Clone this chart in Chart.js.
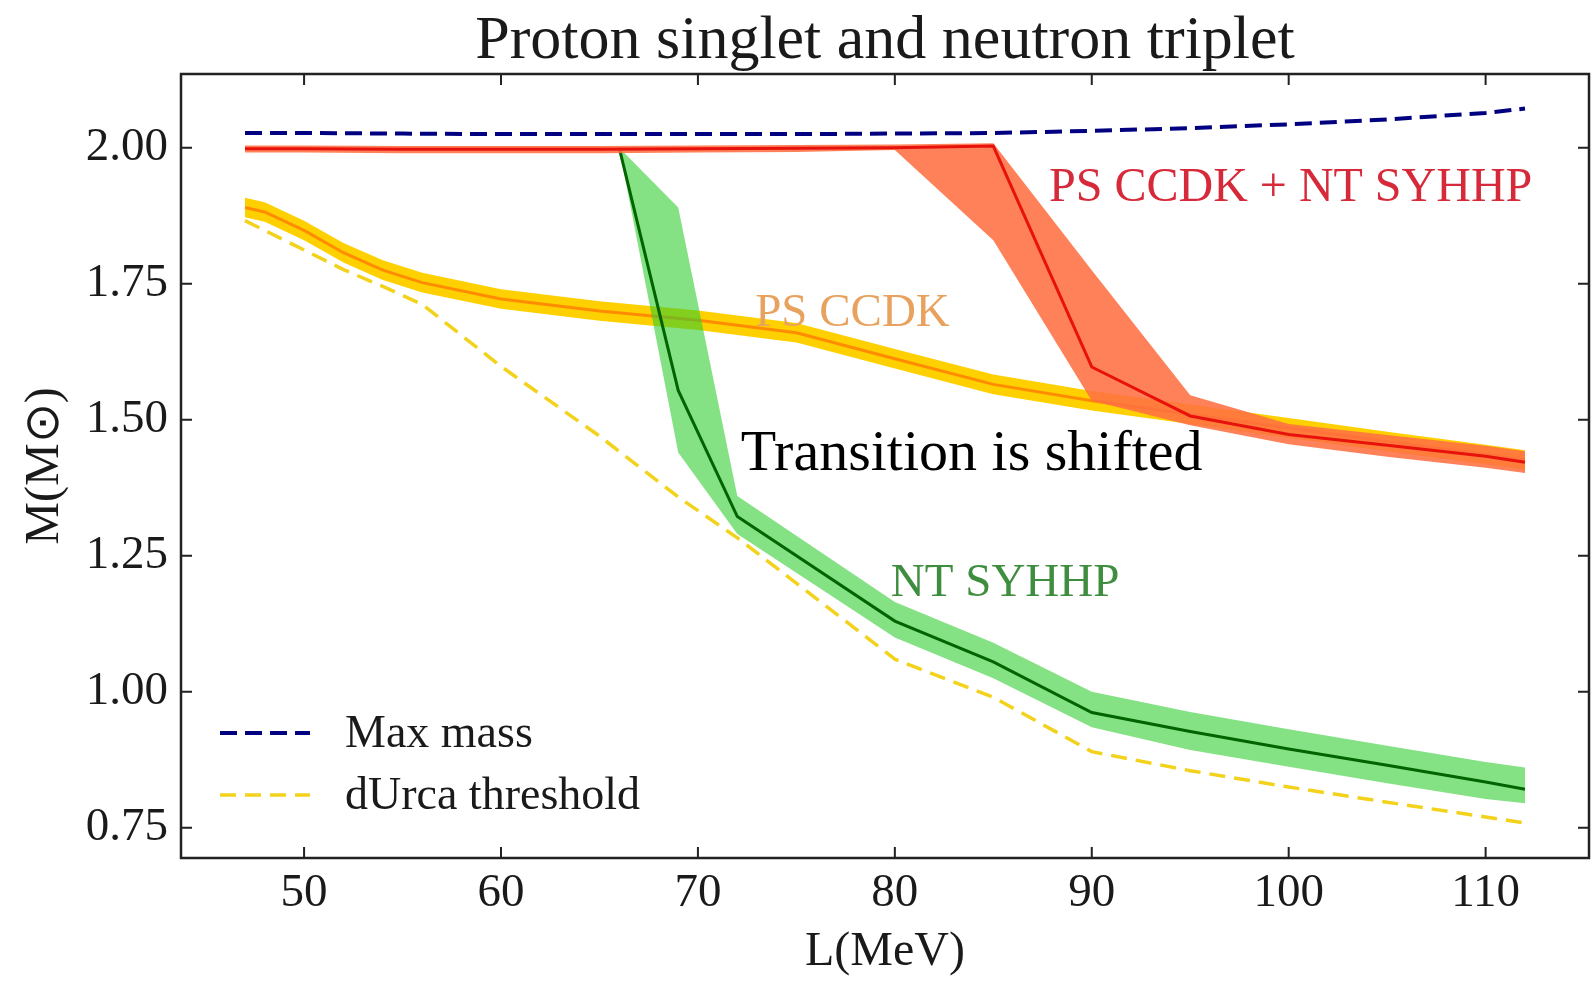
<!DOCTYPE html>
<html>
<head>
<meta charset="utf-8">
<script src="https://cdn.jsdelivr.net/npm/chart.js@4.4.0/dist/chart.umd.min.js"></script>
<style>
  html, body { margin: 0; padding: 0; background: #fff; }
</style>
</head>
<body>
<canvas id="my_chart" width="1595" height="987"></canvas>
<script>
// values, L in MeV, M in solar masses
const max_mass_L = [47, 50, 55, 60, 65, 70, 75, 80, 85, 90, 95, 100, 105, 110, 112]
const max_mass   = [2.027, 2.027, 2.026, 2.025, 2.025, 2.025, 2.025, 2.026, 2.027, 2.031, 2.036, 2.043, 2.052, 2.064, 2.072]

const durca_L = [47, 48, 50, 52, 54, 56, 60, 65, 69, 72, 80, 85, 90, 95, 100, 105, 110, 112]
const durca   = [1.866, 1.848, 1.812, 1.776, 1.745, 1.712, 1.598, 1.470, 1.358, 1.283, 1.060, 0.990, 0.890, 0.855, 0.825, 0.797, 0.770, 0.759]

// PS CCDK (proton singlet only)
const ps_L   = [47, 48, 50, 52, 54, 56, 60, 65, 70, 75, 80, 85, 90, 95, 100, 105, 110, 112]
const ps_mid = [1.890, 1.882, 1.848, 1.807, 1.775, 1.752, 1.722, 1.700, 1.683, 1.660, 1.612, 1.565, 1.535, 1.510, 1.485, 1.460, 1.436, 1.426]
const ps_hi  = [1.908, 1.900, 1.866, 1.825, 1.793, 1.770, 1.740, 1.718, 1.701, 1.678, 1.630, 1.583, 1.553, 1.528, 1.503, 1.478, 1.454, 1.444]
const ps_lo  = [1.872, 1.864, 1.830, 1.789, 1.757, 1.734, 1.704, 1.682, 1.665, 1.642, 1.594, 1.547, 1.517, 1.492, 1.467, 1.442, 1.418, 1.408]

// NT SYHHP (neutron triplet only)
const nt_L   = [66, 69, 72, 80, 85, 90, 95, 100, 105, 110, 112]
const nt_mid = [2.000, 1.554, 1.322, 1.130, 1.055, 0.962, 0.927, 0.895, 0.865, 0.834, 0.821]
const nt_hi  = [2.000, 1.890, 1.360, 1.165, 1.090, 1.000, 0.963, 0.931, 0.901, 0.871, 0.861]
const nt_lo  = [2.000, 1.440, 1.290, 1.100, 1.025, 0.935, 0.893, 0.862, 0.832, 0.803, 0.795]

// PS CCDK + NT SYHHP
const both_L   = [47, 50, 55, 60, 65, 70, 75, 80, 85, 90, 95, 100, 105, 110, 112]
const both_mid = [1.998, 1.998, 1.997, 1.997, 1.997, 1.998, 1.999, 2.000, 2.003, 1.597, 1.507, 1.473, 1.453, 1.433, 1.422]
const both_hi  = [2.004, 2.004, 2.003, 2.003, 2.003, 2.004, 2.005, 2.006, 2.008, 1.775, 1.545, 1.492, 1.472, 1.452, 1.442]
const both_lo  = [1.991, 1.991, 1.990, 1.990, 1.990, 1.991, 1.992, 1.996, 1.830, 1.535, 1.490, 1.455, 1.432, 1.412, 1.402]

// text placed in data coordinates (L, M at baseline)
const note_text = ['PS CCDK + NT SYHHP', 'PS CCDK', 'NT SYHHP', 'Transition is shifted']
const note_L    = [100.1, 77.85, 85.6, 83.9]
const note_M    = [1.902, 1.673, 1.176, 1.4084]
const note_color = ['#d62a3a', '#e8a25e', '#3f8d3f', '#000000']
const note_font  = ['48px "Liberation Serif"', '47px "Liberation Serif"', '47px "Liberation Serif"', '58px "Liberation Serif"']

const legend_labels = ['Max mass', 'dUrca threshold']

function pts(xs, ys) {
  return xs.map((v, i) => ({x: v, y: ys[i]}))
}

function band(xs, ys, color, order) {
  return {data: pts(xs, ys), borderWidth: 0, pointRadius: 0, backgroundColor: color, order: order}
}

Chart.defaults.font.family = '"Liberation Serif", serif'
Chart.defaults.color = '#1a1a1a'

const datasets = [
  {label: 'Max mass', data: pts(max_mass_L, max_mass), borderColor: '#000080', borderWidth: 4,
   borderDash: [17, 8], pointRadius: 0, fill: false, order: 10},
  {label: 'dUrca threshold', data: pts(durca_L, durca), borderColor: '#f3d21c', borderWidth: 3.5,
   borderDash: [16, 9], pointRadius: 0, fill: false, order: 9},
  // PS CCDK band + line
  Object.assign(band(ps_L, ps_hi, '#ffd000', 8), {fill: '+1'}),
  band(ps_L, ps_lo, '#ffd000', 8),
  {label: 'PS CCDK', data: pts(ps_L, ps_mid), borderColor: '#ff8c00', borderWidth: 3, pointRadius: 0, fill: false, order: 7},
  // NT SYHHP band + line
  Object.assign(band(nt_L, nt_hi, 'rgba(50,205,50,0.6)', 6), {fill: '+1'}),
  band(nt_L, nt_lo, 'rgba(50,205,50,0.6)', 6),
  {label: 'NT SYHHP', data: pts(nt_L, nt_mid), borderColor: '#006400', borderWidth: 3, pointRadius: 0, fill: false, order: 5},
  // combined band + line
  Object.assign(band(both_L, both_hi, 'rgba(255,112,66,0.88)', 4), {fill: '+1'}),
  band(both_L, both_lo, 'rgba(255,112,66,0.88)', 4),
  {label: 'PS CCDK + NT SYHHP', data: pts(both_L, both_mid), borderColor: '#e8120c', borderWidth: 3, pointRadius: 0, fill: false, order: 3},
]

const frame_plugin = {
  id: 'frame',
  afterDraw(chart) {
    const {ctx, chartArea: a, scales: {x, y}} = chart
    ctx.save()
    ctx.strokeStyle = '#222'
    ctx.lineWidth = 2.5
    ctx.strokeRect(a.left, a.top, a.right - a.left, a.bottom - a.top)

    // inward ticks on all four sides
    ctx.lineWidth = 2
    ctx.beginPath()
    x.ticks.forEach(t => {
      const px = x.getPixelForValue(t.value)
      ctx.moveTo(px, a.bottom); ctx.lineTo(px, a.bottom - 11)
      ctx.moveTo(px, a.top); ctx.lineTo(px, a.top + 11)
    })
    y.ticks.forEach(t => {
      const py = y.getPixelForValue(t.value)
      ctx.moveTo(a.left, py); ctx.lineTo(a.left + 11, py)
      ctx.moveTo(a.right, py); ctx.lineTo(a.right - 11, py)
    })
    ctx.stroke()

    // title
    ctx.fillStyle = '#1a1a1a'
    ctx.font = '62px "Liberation Serif"'
    ctx.textAlign = 'center'
    ctx.textBaseline = 'alphabetic'
    ctx.fillText('Proton singlet and neutron triplet', (a.left + a.right) / 2, 58)

    // annotations
    note_text.forEach((txt, i) => {
      ctx.font = note_font[i]
      ctx.fillStyle = note_color[i]
      ctx.fillText(txt, x.getPixelForValue(note_L[i]), y.getPixelForValue(note_M[i]))
    })

    // legend (lower left, inside axes)
    ctx.textAlign = 'left'
    ctx.textBaseline = 'middle'
    ctx.font = '46px "Liberation Serif"'
    legend_labels.forEach((lab, i) => {
      const ds = chart.data.datasets[i]
      const ly = a.bottom - 125 + i * 62
      ctx.strokeStyle = ds.borderColor
      ctx.lineWidth = ds.borderWidth
      ctx.setLineDash(ds.borderDash)
      ctx.beginPath()
      ctx.moveTo(a.left + 39, ly)
      ctx.lineTo(a.left + 129, ly)
      ctx.stroke()
      ctx.setLineDash([])
      ctx.fillStyle = '#1a1a1a'
      ctx.fillText(lab, a.left + 164, ly + 2)
    })
    ctx.restore()
  }
}

const ctx = document.getElementById('my_chart').getContext('2d')
const my_chart = new Chart(ctx, {
  type: 'line',
  data: {datasets: datasets},
  options: {
    responsive: false,
    animation: false,
    devicePixelRatio: 1,
    layout: {padding: {left: 0, right: 6, top: 74, bottom: 0}},
    elements: {line: {tension: 0}},
    plugins: {
      legend: {display: false},
      title: {display: false},
      tooltip: {enabled: false},
      filler: {propagate: false}
    },
    scales: {
      x: {
        type: 'linear',
        min: 43.75,
        max: 115.25,
        grid: {display: false, drawTicks: false},
        border: {display: false},
        ticks: {stepSize: 10, includeBounds: false, padding: 7, font: {size: 47}, color: '#1a1a1a', maxRotation: 0},
        title: {display: true, text: 'L(MeV)', font: {size: 48}, color: '#1a1a1a', padding: {top: 0, bottom: 6}},
        afterFit: s => { s.height = 129 }
      },
      y: {
        type: 'linear',
        min: 0.6945,
        max: 2.1355,
        grid: {display: false, drawTicks: false},
        border: {display: false},
        ticks: {stepSize: 0.25, includeBounds: false, padding: 13, font: {size: 47}, color: '#1a1a1a',
                callback: v => v.toFixed(2)},
        title: {display: true, text: 'M(M\u2299)', font: {size: 48}, color: '#1a1a1a', padding: {top: 17, bottom: 0}},
        afterFit: s => { s.width = 181 }
      }
    }
  },
  plugins: [frame_plugin]
})
</script>
</body>
</html>
